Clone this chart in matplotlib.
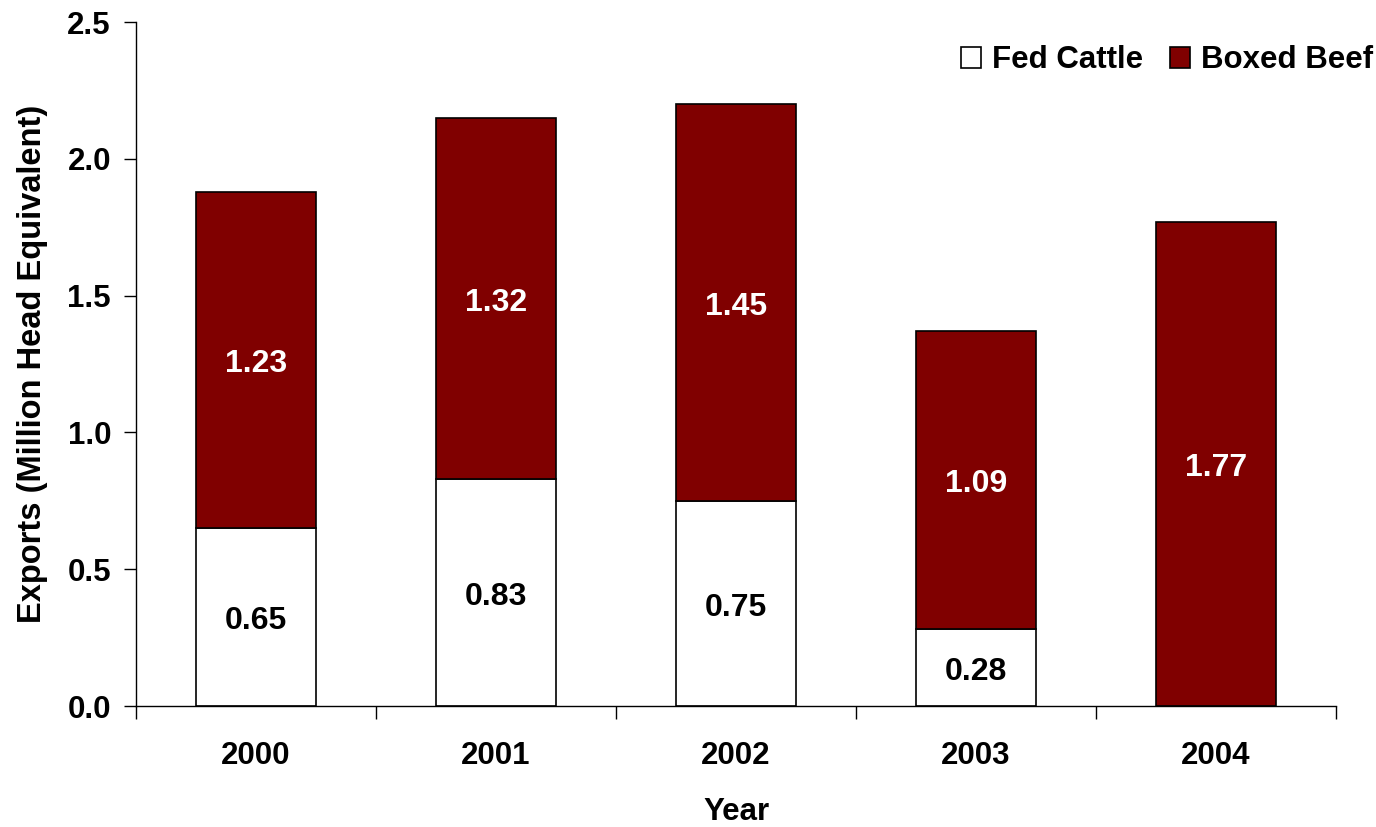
import matplotlib
matplotlib.use("Agg")
import matplotlib.pyplot as plt
import numpy as np

years = ["2000", "2001", "2002", "2003", "2004"]
fed_cattle = [0.65, 0.83, 0.75, 0.28, 0.0]
boxed_beef = [1.23, 1.32, 1.45, 1.09, 1.77]
y_ticks = [0.0, 0.5, 1.0, 1.5, 2.0, 2.5]

plt.rcParams["font.family"] = ["Liberation Sans", "DejaVu Sans"]
plt.rcParams["font.weight"] = "bold"

fig = plt.figure(figsize=(13.76, 8.27), dpi=100)
ax = fig.add_axes([136 / 1376, 121 / 827, 1200 / 1376, 684 / 827])

x = np.arange(len(years))
w = 0.5
maroon = "#800000"

ax.bar(x, fed_cattle, width=w, color="white", edgecolor="black", linewidth=1.2,
       label="Fed Cattle", zorder=2)
ax.bar(x, boxed_beef, width=w, bottom=fed_cattle, color=maroon, edgecolor="black",
       linewidth=1.2, label="Boxed Beef", zorder=2)

for xi, f, b in zip(x, fed_cattle, boxed_beef):
    if f > 0:
        ax.annotate(f"{f:.2f}", (xi, f / 2), xytext=(0, -3), textcoords="offset points",
                    ha="center", va="center", fontsize=23, fontweight="bold",
                    color="black")
    ax.annotate(f"{b:.2f}", (xi, f + b / 2), xytext=(0, -3), textcoords="offset points",
                ha="center", va="center", fontsize=23, fontweight="bold",
                color="white")

ax.set_xlim(-0.5, len(years) - 0.5)
ax.set_ylim(0, 2.5)
ax.set_yticks(y_ticks)
ax.set_yticklabels([f"{t:.1f}" for t in y_ticks], fontsize=22.5, fontweight="bold")

# category labels centred, tick marks at category boundaries
ax.set_xticks(x)
ax.set_xticklabels(years, fontsize=22.5, fontweight="bold")
ax.tick_params(axis="x", which="major", length=0, pad=25)
ax.set_xticks(np.arange(-0.5, len(years)), minor=True)
ax.tick_params(axis="x", which="minor", length=9, width=1, direction="out")
ax.tick_params(axis="y", length=9, width=1, direction="out", pad=9)

for s in ["top", "right"]:
    ax.spines[s].set_visible(False)
for s in ["left", "bottom"]:
    ax.spines[s].set_linewidth(1)

ax.set_xlabel("Year", fontsize=22.5, fontweight="bold", labelpad=19)
ax.set_ylabel("Exports (Million Head Equivalent)", fontsize=23.5, fontweight="bold",
              labelpad=14)

leg = ax.legend(loc="upper right", ncol=2, frameon=False, fontsize=22.5,
                handlelength=0.65, handleheight=0.65, handletextpad=0.35,
                columnspacing=0.85, bbox_to_anchor=(1.0, 0.949),
                bbox_transform=fig.transFigure, borderaxespad=0.0, borderpad=0.1)
for t in leg.get_texts():
    t.set_fontweight("bold")

fig.savefig("out.png", dpi=100, facecolor="white")
